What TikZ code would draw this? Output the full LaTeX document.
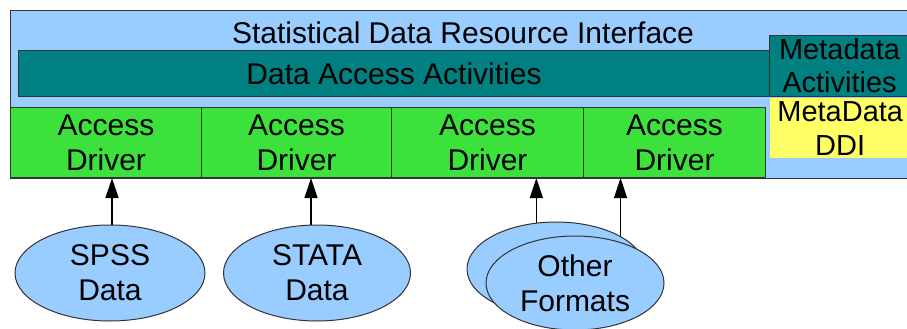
\documentclass[tikz,border=0pt]{standalone}
\usepackage{fontspec}
\setmainfont{Liberation Sans}
\usetikzlibrary{shapes.geometric,arrows.meta}
\definecolor{lblue}{HTML}{99CCFF}
\definecolor{teal2}{HTML}{008080}
\definecolor{grn}{HTML}{3CE13C}
\definecolor{ylw}{HTML}{FFFF66}
\definecolor{edge}{HTML}{333333}
\begin{document}
\begin{tikzpicture}[x=1pt,y=-1pt,
  box/.style={draw=edge, line width=1pt, inner sep=0pt, anchor=north west},
  txt/.style={font=\fontsize{30}{35}\selectfont, align=center, inner sep=0pt},
  smalltxt/.style={font=\fontsize{29}{34}\selectfont, align=center, inner sep=0pt},
  cell/.style={box, fill=grn, minimum height=70pt, txt},
  blob/.style={ellipse, draw=edge, line width=1pt, fill=lblue, inner sep=0pt, txt},
  arr/.style={draw=edge, line width=1.3pt, -{Triangle[length=20pt,width=13pt]}, black}]
\useasboundingbox (0,0) rectangle (907,329);
\fill[white] (0,0) rectangle (907,329);
% outer interface
\node[box, fill=lblue, minimum width=900pt, minimum height=168pt] (sdri) at (10,10) {};
\node[txt] (title) at (463,33) {Statistical Data Resource Interface};
% data access activities
\node[box, fill=teal2, minimum width=751pt, minimum height=46pt, txt] (daa) at (18,50) {Data Access Activities};
% metadata activities
\node[box, fill=teal2, minimum width=140pt, minimum height=61pt, smalltxt] (mda) at (769,35) {Metadata\\[-1pt]Activities};
% metadata DDI
\node[anchor=north west, fill=ylw, inner sep=0pt, minimum width=140pt, minimum height=60pt, smalltxt] (ddi) at (770,98) {MetaData\\DDI};
% access drivers
\node[cell, minimum width=191pt] (d1) at (10,107) {Access\\Driver};
\node[cell, minimum width=190pt] (d2) at (201,107) {Access\\Driver};
\node[cell, minimum width=192pt] (d3) at (391,107) {Access\\Driver};
\node[cell, minimum width=182pt] (d4) at (583,107) {Access\\Driver};
% data sources
\node[blob, minimum width=190pt, minimum height=96pt] (spss) at (110,273) {SPSS\\Data};
\node[blob, minimum width=187pt, minimum height=96pt] (stata) at (317,273) {STATA\\Data};
\node[blob, minimum width=178pt, minimum height=94pt] (oth1) at (556,269) {};
\node[blob, minimum width=178pt, minimum height=94pt] (oth2) at (575,283) {Other\\Formats};
% connectors
\draw[arr] ([xshift=2pt]spss.north) -- ([xshift=2pt]spss.north |- d1.south);
\draw[arr] ([xshift=-6pt]stata.north) -- ([xshift=-6pt]stata.north |- d2.south);
\draw[arr] (oth1.113) -- (oth1.113 |- d3.south);
\draw[arr] (oth1.27) -- (oth1.27 |- d4.south);
\end{tikzpicture}
\end{document}
